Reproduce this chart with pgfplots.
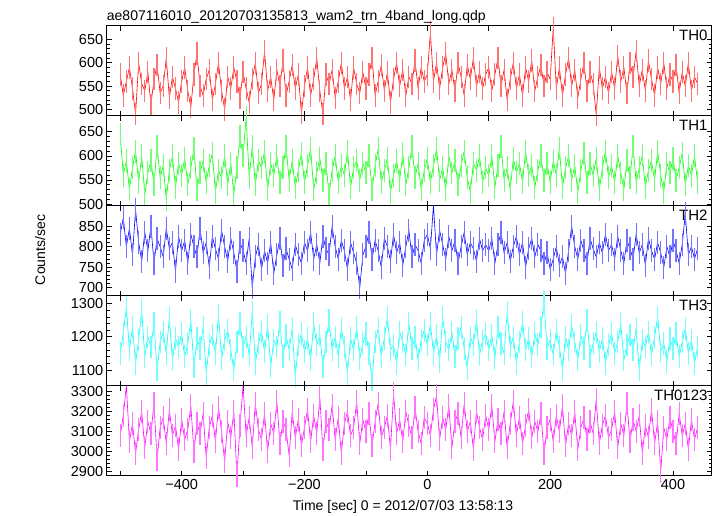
\documentclass[border=0pt]{standalone}
\usepackage{fontspec}
\setmainfont{Liberation Sans}
\usepackage{pgfplots}
\usepackage{pgfplotstable}
\pgfplotsset{compat=1.18}
\definecolor{qred}{rgb}{1,0,0}
\definecolor{qgreen}{rgb}{0,1,0}
\definecolor{qblue}{rgb}{0,0,1}
\definecolor{qcyan}{rgb}{0,1,1}
\definecolor{qmag}{rgb}{1,0,1}

\pgfplotstableread[header=false,row sep=\\]{
575\\530\\560\\590\\545\\490\\600\\555\\540\\580\\510\\565\\595\\535\\550\\610\\525\\570\\545\\515\\
560\\590\\540\\505\\575\\620\\550\\530\\565\\585\\520\\555\\600\\540\\500\\570\\545\\590\\560\\525\\
580\\545\\515\\565\\600\\535\\555\\625\\540\\570\\520\\585\\550\\605\\530\\560\\595\\545\\575\\492\\
550\\590\\530\\565\\610\\540\\490\\575\\555\\585\\525\\560\\600\\545\\570\\520\\590\\555\\535\\580\\
545\\575\\610\\530\\560\\595\\540\\580\\515\\565\\600\\550\\585\\530\\570\\555\\605\\545\\590\\560\\
575\\665\\560\\600\\545\\590\\620\\555\\585\\540\\600\\570\\530\\595\\565\\610\\550\\580\\545\\575\\
590\\540\\575\\610\\550\\585\\520\\565\\600\\545\\575\\530\\590\\560\\605\\540\\570\\595\\550\\580\\
565\\675\\545\\590\\530\\575\\610\\550\\585\\525\\565\\600\\540\\580\\555\\488\\590\\545\\570\\535\\
580\\545\\615\\560\\590\\535\\600\\570\\625\\550\\585\\540\\605\\565\\530\\590\\555\\600\\545\\575\\
560\\595\\535\\580\\550\\600\\540\\570\\555\\
}\thzero

\pgfplotstableread[header=false,row sep=\\]{
645\\560\\590\\530\\575\\610\\545\\600\\520\\565\\590\\540\\620\\555\\580\\510\\570\\600\\535\\585\\
560\\595\\540\\575\\615\\530\\565\\590\\545\\580\\605\\525\\570\\555\\600\\540\\585\\520\\575\\640\\
600\\680\\555\\620\\540\\590\\575\\610\\530\\585\\560\\600\\545\\575\\620\\550\\590\\535\\570\\605\\
545\\580\\615\\530\\565\\595\\550\\585\\520\\570\\600\\545\\580\\560\\610\\535\\575\\590\\550\\585\\
565\\600\\530\\580\\615\\545\\570\\595\\525\\560\\590\\550\\605\\540\\575\\620\\555\\585\\530\\570\\
595\\545\\580\\615\\550\\575\\530\\600\\565\\590\\540\\580\\610\\555\\525\\585\\570\\600\\545\\575\\
560\\600\\535\\580\\620\\550\\575\\530\\595\\565\\585\\545\\610\\560\\580\\535\\570\\600\\550\\585\\
545\\590\\560\\615\\535\\575\\600\\550\\580\\525\\570\\605\\545\\585\\560\\595\\530\\575\\610\\555\\
580\\545\\600\\565\\530\\590\\555\\620\\545\\575\\600\\535\\570\\590\\550\\610\\560\\525\\585\\565\\
595\\550\\575\\605\\540\\580\\560\\600\\545\\
}\thone

\pgfplotstableread[header=false,row sep=\\]{
830\\870\\800\\845\\780\\890\\810\\765\\835\\790\\850\\760\\820\\800\\775\\845\\795\\810\\740\\825\\
790\\815\\760\\830\\800\\775\\845\\785\\810\\750\\825\\795\\770\\840\\800\\765\\820\\785\\740\\810\\
790\\760\\820\\700\\775\\805\\745\\790\\760\\810\\735\\780\\820\\755\\795\\770\\745\\805\\780\\760\\
810\\790\\835\\770\\805\\760\\825\\795\\780\\850\\800\\770\\815\\790\\745\\810\\785\\760\\700\\780\\
800\\835\\770\\815\\790\\750\\820\\800\\765\\830\\785\\810\\755\\800\\840\\775\\805\\790\\760\\815\\
830\\795\\900\\780\\840\\805\\770\\825\\790\\815\\760\\800\\835\\780\\810\\795\\765\\820\\790\\805\\
790\\820\\760\\805\\835\\785\\810\\765\\800\\825\\780\\810\\750\\795\\820\\775\\805\\790\\760\\785\\
745\\770\\800\\755\\775\\735\\790\\850\\800\\770\\815\\790\\760\\820\\795\\775\\810\\785\\830\\790\\
805\\770\\825\\790\\760\\815\\795\\770\\830\\785\\805\\755\\820\\790\\770\\810\\785\\750\\800\\775\\
815\\790\\760\\805\\880\\780\\800\\770\\795\\
}\thtwo

\pgfplotstableread[header=false,row sep=\\]{
1150\\1210\\1290\\1160\\1230\\1120\\1190\\1280\\1140\\1200\\1170\\1240\\1100\\1185\\1215\\1150\\1260\\1130\\1195\\1170\\
1210\\1140\\1180\\1250\\1110\\1195\\1165\\1230\\1090\\1175\\1205\\1150\\1265\\1135\\1190\\1220\\1160\\1100\\1185\\1240\\
1170\\1200\\1145\\1275\\1120\\1180\\1215\\1155\\1235\\1110\\1190\\1170\\1245\\1140\\1205\\1160\\1225\\1080\\1175\\1210\\
1155\\1195\\1130\\1240\\1175\\1205\\1110\\1185\\1250\\1160\\1200\\1140\\1225\\1170\\1090\\1195\\1160\\1230\\1135\\1180\\
1210\\1150\\1070\\1185\\1225\\1140\\1195\\1260\\1160\\1175\\1120\\1215\\1185\\1145\\1240\\1165\\1200\\1130\\1190\\1220\\
1175\\1240\\1150\\1205\\1125\\1260\\1185\\1160\\1215\\1140\\1195\\1230\\1165\\1105\\1200\\1175\\1250\\1145\\1190\\1210\\
1160\\1205\\1135\\1230\\1180\\1150\\1275\\1170\\1200\\1120\\1185\\1245\\1160\\1195\\1140\\1210\\1175\\1230\\1305\\1165\\
1190\\1145\\1220\\1170\\1100\\1200\\1160\\1235\\1185\\1130\\1205\\1165\\1250\\1140\\1180\\1215\\1155\\1195\\1120\\1175\\
1210\\1150\\1185\\1240\\1130\\1175\\1205\\1160\\1225\\1100\\1190\\1170\\1215\\1145\\1200\\1260\\1155\\1180\\1125\\1195\\
1165\\1210\\1140\\1185\\1225\\1150\\1190\\1120\\1170\\
}\ththree

\pgfplotstableread[header=false,row sep=\\]{
3080\\3180\\3330\\3050\\3140\\2990\\3110\\3200\\3020\\3150\\3090\\3240\\2960\\3120\\3170\\3040\\3210\\3080\\3130\\3010\\
3160\\3060\\3110\\3230\\3000\\3140\\3090\\3190\\2970\\3120\\3180\\3050\\3220\\3100\\2950\\3150\\3070\\3200\\2880\\3130\\
3330\\3080\\3170\\3020\\3240\\3110\\3060\\3190\\3000\\3140\\3090\\3250\\3040\\3150\\3110\\2980\\3200\\3070\\3160\\3030\\
3120\\3210\\3050\\3180\\3090\\3270\\3010\\3150\\3110\\3230\\3060\\3170\\2990\\3140\\3200\\3080\\3120\\3250\\3040\\3160\\
3100\\3190\\3030\\3150\\3240\\3070\\3120\\3180\\3010\\3290\\3090\\3160\\3050\\3200\\3130\\3070\\3220\\3100\\3040\\3170\\
3140\\3080\\3210\\3280\\3060\\3170\\3110\\3230\\3020\\3150\\3190\\3070\\3240\\3100\\3150\\3010\\3200\\3120\\3060\\3180\\
3110\\3230\\3050\\3160\\3090\\3200\\3020\\3140\\3250\\3080\\3170\\3040\\3130\\3210\\3070\\3150\\3100\\3190\\2990\\3120\\
3160\\3050\\3180\\3100\\3230\\3030\\3140\\3080\\3200\\3010\\3120\\3170\\3060\\3150\\3090\\3260\\3040\\3130\\3180\\3070\\
3110\\3200\\3020\\3140\\3080\\3240\\3050\\3160\\3100\\3180\\2990\\3130\\3070\\3210\\3040\\3150\\2900\\3120\\3060\\3170\\
3100\\3040\\3190\\3080\\3140\\3010\\3160\\3060\\3120\\
}\thall

\pgfplotsset{
  panel/.style={
    scale only axis, width=605pt, height=90pt,
    anchor=south west,
    xmin=-522, xmax=463,
    axis line style={line width=1pt},
    tick style={black, line width=0.8pt},
    tick align=inside,
    major tick length=5pt, minor tick length=3pt,
    xtick={-500,-400,...,400},
    xticklabels={},
    scaled y ticks=false,
    yticklabel style={font=\fontsize{14.5pt}{16pt}\selectfont,
      /pgf/number format/assume math mode=true,
      /pgf/number format/1000 sep={}},
    minor y tick num=4,
  },
}
\tikzset{thlab/.style={anchor=north east, font=\fontsize{15pt}{17pt}\selectfont, inner sep=1pt}}

\begin{document}
\begin{tikzpicture}
\useasboundingbox (0,0) rectangle (717pt,516pt);
\begin{axis}[panel, at={(106.7pt,400pt)}, ymin=486, ymax=679, ytick={500,550,600,650}]
\addplot[qred!55!white, only marks, mark=|, mark size=11.2pt, mark options={line width=1.2pt}] table[x expr=\coordindex*5-500, y index=0] {\thzero};
\addplot[qred, line width=0.6pt, mark=none] table[x expr=\coordindex*5-500, y index=0] {\thzero};
\node[thlab] at (rel axis cs:0.995,0.97) {TH0};
\end{axis}
\begin{axis}[panel, at={(106.7pt,310pt)}, ymin=496, ymax=683, ytick={500,550,600,650}]
\addplot[qgreen!55!white, only marks, mark=|, mark size=11.5pt, mark options={line width=1.2pt}] table[x expr=\coordindex*5-500, y index=0] {\thone};
\addplot[qgreen, line width=0.6pt, mark=none] table[x expr=\coordindex*5-500, y index=0] {\thone};
\node[thlab] at (rel axis cs:0.995,0.97) {TH1};
\end{axis}
\begin{axis}[panel, at={(106.7pt,220pt)}, ymin=680, ymax=899, ytick={700,750,800,850}]
\addplot[qblue!55!white, only marks, mark=|, mark size=11.5pt, mark options={line width=1.2pt}] table[x expr=\coordindex*5-500, y index=0] {\thtwo};
\addplot[qblue, line width=0.6pt, mark=none] table[x expr=\coordindex*5-500, y index=0] {\thtwo};
\node[thlab] at (rel axis cs:0.995,0.97) {TH2};
\end{axis}
\begin{axis}[panel, at={(106.7pt,130pt)}, ymin=1052, ymax=1323, ytick={1100,1200,1300}]
\addplot[qcyan!55!white, only marks, mark=|, mark size=11.3pt, mark options={line width=1.2pt}] table[x expr=\coordindex*5-500, y index=0] {\ththree};
\addplot[qcyan, line width=0.6pt, mark=none] table[x expr=\coordindex*5-500, y index=0] {\ththree};
\node[thlab] at (rel axis cs:0.995,0.97) {TH3};
\end{axis}
\begin{axis}[panel, at={(106.7pt,40pt)}, ymin=2878, ymax=3328, ytick={2900,3000,3100,3200,3300},
  xticklabels={,−400,,−200,,0,,200,,400},
  xticklabel style={font=\fontsize{14.5pt}{16pt}\selectfont}]
\addplot[qmag!55!white, only marks, mark=|, mark size=11.2pt, mark options={line width=1.2pt}] table[x expr=\coordindex*5-500, y index=0] {\thall};
\addplot[qmag, line width=0.6pt, mark=none] table[x expr=\coordindex*5-500, y index=0] {\thall};
\node[thlab] at (rel axis cs:0.995,0.97) {TH0123};
\end{axis}
\node[anchor=base west, font=\fontsize{14pt}{16pt}\selectfont, inner sep=0pt] at (106.7pt,495.5pt) {ae807116010\_20120703135813\_wam2\_trn\_4band\_long.qdp};
\node[rotate=90, font=\fontsize{14pt}{16pt}\selectfont, inner sep=0pt] at (40pt,266pt) {Counts/sec};
\node[anchor=base, font=\fontsize{14pt}{16pt}\selectfont, inner sep=0pt] at (403pt,5.5pt) {Time [sec] 0 = 2012/07/03 13:58:13};
\end{tikzpicture}
\end{document}
